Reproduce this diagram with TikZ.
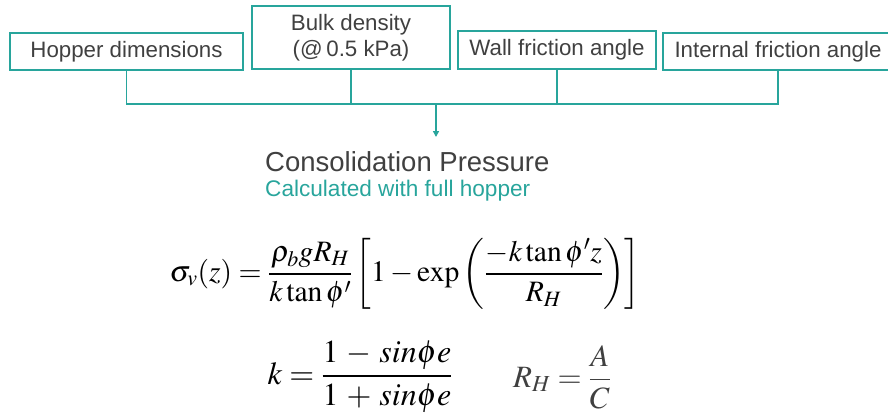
\documentclass[tikz,border=0pt]{standalone}
\usepackage{amsmath}
\usepackage{mathptmx}
\usepackage{fontspec}
\setmainfont{Liberation Sans}
\usepackage{xcolor}
\usetikzlibrary{arrows.meta,positioning}
\definecolor{tealline}{RGB}{40,165,156}
\definecolor{darktext}{RGB}{64,64,64}

\begin{document}
\begin{tikzpicture}[x=1pt, y=-1pt,
        box/.style={draw=tealline, line width=1.6pt, text=darktext, align=center, inner sep=0pt, font=\fontsize{22.3}{26}\selectfont},
        link/.style={draw=tealline, line width=1.6pt},
        arr/.style={link, -{Triangle[length=6pt, width=6pt]}}
    ]
        \useasboundingbox (0,0) rectangle (888,416);

        % input boxes
        \node[box, minimum width=233pt, minimum height=37pt] (hop) at (126.5,51.5) {Hopper dimensions};
        \node[box, minimum width=198pt, minimum height=63pt] (bulk) at (351,37.5) {Bulk density\\(@\,0.5 kPa)};
        \node[box, minimum width=198pt, minimum height=38pt] (wall) at (557,50) {Wall friction angle};
        \node[box, minimum width=230pt, minimum height=37pt] (intl) at (778,51.5) {Internal friction angle};

        % collecting line
        \coordinate (bus) at (436,104);
        \coordinate (tip) at (436,137);
        \draw[link] (hop.south) |- (bus) -| (intl.south);
        \draw[link] (bulk.south) -- (bulk.south |- bus);
        \draw[link] (wall.south) -- (wall.south |- bus);
        \draw[arr] (bus) -- (tip);

        % result
        \node[anchor=west, inner sep=0pt, text=darktext, font=\fontsize{27.5}{32}\selectfont] (title) at (265,162) {Consolidation Pressure};
        \node[anchor=west, inner sep=0pt, text=tealline, font=\fontsize{22.6}{26}\selectfont] (sub) at (265,191) {Calculated with full hopper};

        % formulas
        \node[inner sep=0pt, font=\fontsize{29.6}{34}\selectfont] (eqsig) at (405,274)
            {$\displaystyle \sigma_v(z)=\frac{\rho_b g R_H}{k\tan\phi'}\left[1-\exp\left(\frac{-k\tan\phi' z}{R_H}\right)\right]$};
        \node[inner sep=0pt, font=\fontsize{32}{38}\selectfont] (eqk) at (360,377)
            {$\displaystyle k=\frac{1\,-\,sin\phi e}{1\,+\,sin\phi e}$};
        \node[inner sep=0pt, text=darktext, font=\fontsize{31}{36}\selectfont] (eqr) at (562,377)
            {$\displaystyle R_H=\frac{A}{C}$};
    \end{tikzpicture}
\end{document}
